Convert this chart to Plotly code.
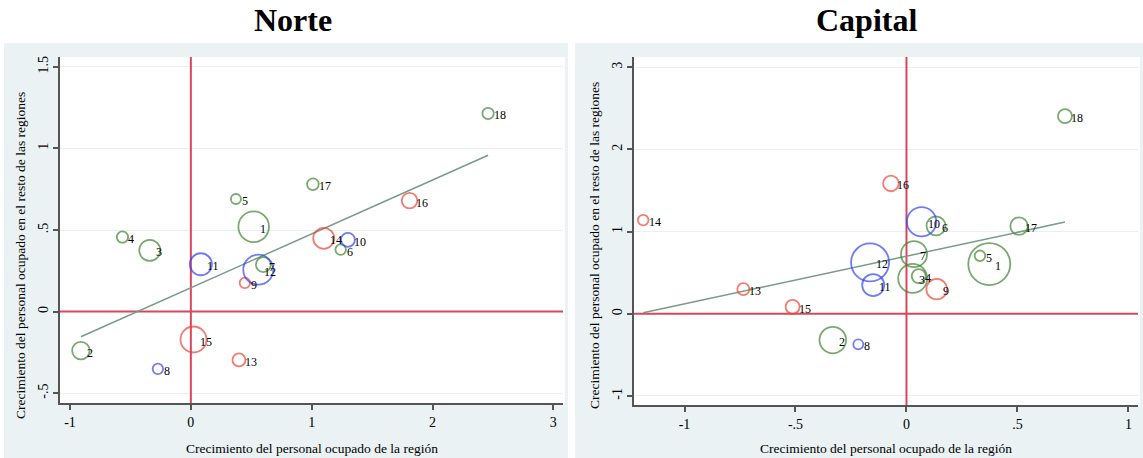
import numpy as np
import plotly.graph_objects as go

# Sector identifiers (1..18) and the colour group each sector belongs to
sectors = list(range(1, 19))
sector_group = ["g", "g", "g", "g", "g", "g", "g", "b", "r",
                "b", "b", "b", "r", "r", "r", "r", "g", "g"]

# Norte: growth of regional employment (x) vs. rest of the regions (y), bubble weight
norte_x = [0.52, -0.91, -0.34, -0.566, 0.373, 1.24, 0.60, -0.273, 0.447,
           1.30, 0.083, 0.558, 0.398, 1.10, 0.022, 1.81, 1.01, 2.46]
norte_y = [0.52, -0.239, 0.375, 0.457, 0.69, 0.38, 0.288, -0.351, 0.176,
           0.44, 0.29, 0.257, -0.296, 0.449, -0.171, 0.68, 0.78, 1.214]
norte_w = [23.4, 7.7, 11.0, 3.2, 2.5, 2.8, 5.6, 2.7, 2.7,
           4.9, 12.1, 22.5, 4.2, 11.0, 16.9, 6.1, 3.4, 3.2]
norte_fit = (0.146, 0.33)  # intercept, slope

# Capital
capital_x = [0.373, -0.332, 0.028, 0.055, 0.331, 0.133, 0.034, -0.217, 0.136,
             0.068, -0.15, -0.164, -0.735, -1.186, -0.513, -0.07, 0.507, 0.714]
capital_y = [0.605, -0.32, 0.43, 0.459, 0.706, 1.07, 0.726, -0.372, 0.30,
             1.12, 0.35, 0.625, 0.30, 1.14, 0.085, 1.586, 1.067, 2.405]
capital_w = [44.1, 17.7, 21.0, 4.9, 2.8, 9.0, 16.9, 2.5, 10.6,
             21.6, 12.1, 36.1, 3.6, 2.8, 4.9, 6.1, 7.6, 4.9]
capital_fit = (0.701, 0.581)

panel_titles = ["Norte", "Capital"]
x_title = "Crecimiento del personal ocupado de la región"
y_title = "Crecimiento del personal ocupado en el resto de las regiones"

norte_xticks = [-1, 0, 1, 2, 3]
norte_xtext = ["-1", "0", "1", "2", "3"]
norte_yticks = [-0.5, 0, 0.5, 1, 1.5]
norte_ytext = ["-.5", "0", ".5", "1", "1.5"]
capital_xticks = [-1, -0.5, 0, 0.5, 1]
capital_xtext = ["-1", "-.5", "0", ".5", "1"]
capital_yticks = [-1, 0, 1, 2, 3]
capital_ytext = ["-1", "0", "1", "2", "3"]

# ---- styling ----
W, H = 1143, 458
SERIF = "Liberation Serif, Times New Roman, serif"
GROUP_COLORS = {"g": "#3f8432", "b": "#3344f0", "r": "#ec4336"}
REF_RED = "#d8475b"
FIT_COLOR = "#7a9a8a"
FRAME_BG = "#eaf2f3"
GRID = "#e8f0f1"
AXIS = "#555555"


def px_x(p):
    return p / W


def px_y(p):
    return 1 - p / H


panels = [
    dict(x=norte_x, y=norte_y, w=norte_w, fit=norte_fit,
         xr=[-1.083, 3.08], yr=[-0.56, 1.56],
         xt=(norte_xticks, norte_xtext), yt=(norte_yticks, norte_ytext),
         dom_x=(60, 563), dom_y=(57, 403), frame=(4, 568),
         title_x=293, ytitle=(20, 256)),
    dict(x=capital_x, y=capital_y, w=capital_w, fit=capital_fit,
         xr=[-1.2275, 1.043], yr=[-1.11, 3.125],
         xt=(capital_xticks, capital_xtext), yt=(capital_yticks, capital_ytext),
         dom_x=(634, 1138), dom_y=(57, 405), frame=(575, 1143),
         title_x=866, ytitle=(594, 246)),
]

fig = go.Figure()
shapes = []
annotations = []
layout_axes = {}

for i, p in enumerate(panels):
    n = "" if i == 0 else str(i + 1)
    xa, ya = "x" + n, "y" + n
    colors = [GROUP_COLORS[g] for g in sector_group]
    diam = 2 * np.sqrt(10 * np.array(p["w"]))

    # reference lines at zero, spanning the full axis ranges
    fig.add_trace(go.Scatter(x=[0, 0], y=p["yr"], mode="lines",
                             line=dict(color=REF_RED, width=2),
                             xaxis=xa, yaxis=ya, showlegend=False,
                             hoverinfo="skip", cliponaxis=True))
    fig.add_trace(go.Scatter(x=p["xr"], y=[0, 0], mode="lines",
                             line=dict(color=REF_RED, width=2),
                             xaxis=xa, yaxis=ya, showlegend=False,
                             hoverinfo="skip", cliponaxis=True))

    # fitted line across the observed x range
    b0, b1 = p["fit"]
    xs = np.array([min(p["x"]), max(p["x"])])
    fig.add_trace(go.Scatter(x=xs, y=b0 + b1 * xs, mode="lines",
                             line=dict(color=FIT_COLOR, width=1.5),
                             xaxis=xa, yaxis=ya, showlegend=False,
                             hoverinfo="skip"))
    # weighted bubbles
    fig.add_trace(go.Scatter(x=p["x"], y=p["y"], mode="markers",
                             marker=dict(symbol="circle-open", size=diam,
                                         color=colors, line=dict(width=1.8)),
                             xaxis=xa, yaxis=ya, showlegend=False,
                             text=[str(s) for s in sectors]))
    # sector labels to the right of each bubble centre
    for s, xv, yv in zip(sectors, p["x"], p["y"]):
        annotations.append(dict(x=xv, y=yv, xref=xa, yref=ya, text=str(s),
                                showarrow=False, xanchor="left",
                                yanchor="middle", xshift=4, yshift=-2,
                                font=dict(family=SERIF, size=12, color="black")))

    # panel frame and white plotting region
    f0, f1 = p["frame"]
    shapes.append(dict(type="rect", xref="paper", yref="paper",
                       x0=px_x(f0), x1=px_x(f1), y0=0, y1=px_y(43),
                       fillcolor=FRAME_BG, line=dict(width=0), layer="below"))
    dx0, dx1 = p["dom_x"]
    dy0, dy1 = p["dom_y"]
    shapes.append(dict(type="rect", xref="paper", yref="paper",
                       x0=px_x(dx0), x1=px_x(dx1 + 2), y0=px_y(dy1),
                       y1=px_y(dy0), fillcolor="white", line=dict(width=0),
                       layer="below"))

    # titles
    annotations.append(dict(x=px_x(p["title_x"]), y=px_y(20), xref="paper",
                            yref="paper", text="<b>%s</b>" % panel_titles[i],
                            showarrow=False, xanchor="center", yanchor="middle",
                            font=dict(family=SERIF, size=32, color="black")))
    annotations.append(dict(x=px_x((dx0 + dx1) / 2), y=px_y(448),
                            xref="paper", yref="paper", text=x_title,
                            showarrow=False, xanchor="center", yanchor="middle",
                            font=dict(family=SERIF, size=13.5, color="black")))
    tx, ty = p["ytitle"]
    annotations.append(dict(x=px_x(tx), y=px_y(ty), xref="paper",
                            yref="paper", text=y_title, textangle=-90,
                            showarrow=False, xanchor="center", yanchor="middle",
                            font=dict(family=SERIF, size=13.5, color="black")))

    axis_common = dict(showline=True, linecolor=AXIS, linewidth=1.5,
                       ticks="outside", ticklen=5, tickcolor=AXIS, tickwidth=1.5,
                       zeroline=False,
                       tickfont=dict(family=SERIF, size=14, color="black"))
    layout_axes["xaxis" + n] = dict(
        axis_common, domain=[px_x(dx0), px_x(dx1)], range=p["xr"],
        tickvals=p["xt"][0], ticktext=p["xt"][1], showgrid=False,
        anchor=ya)
    layout_axes["yaxis" + n] = dict(
        axis_common, domain=[px_y(dy1), px_y(dy0)], range=p["yr"],
        tickvals=p["yt"][0], ticktext=p["yt"][1], showgrid=True,
        gridcolor=GRID, gridwidth=1.2, tickangle=-90, anchor=xa)

fig.update_layout(width=W, height=H, margin=dict(l=0, r=0, t=0, b=0),
                  paper_bgcolor="white", plot_bgcolor="white",
                  shapes=shapes, annotations=annotations, **layout_axes)

fig.write_html("out.html")
